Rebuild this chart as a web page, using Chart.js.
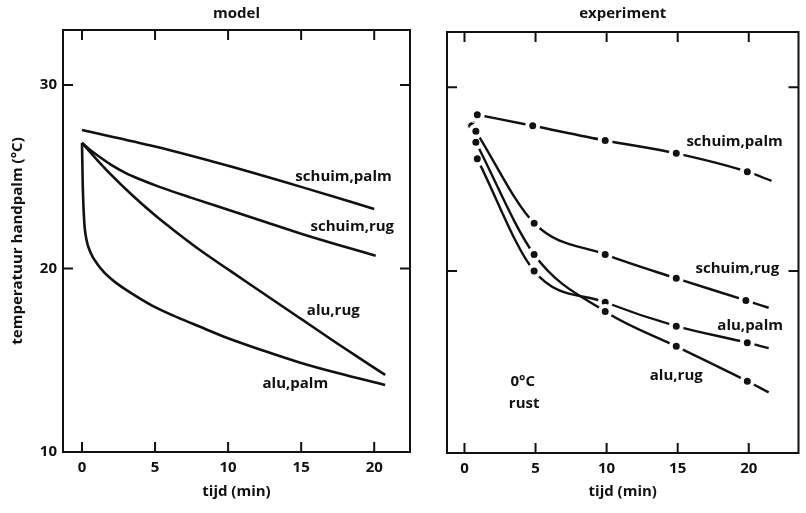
<!DOCTYPE html>
<html>
<head>
<meta charset="utf-8">
<script src="https://cdn.jsdelivr.net/npm/chart.js@4.4.1/dist/chart.umd.min.js"></script>
<style>
html, body { margin: 0; padding: 0; background: #fff; overflow: hidden; width: 806px; height: 513px; }
#chartModel { position: absolute; left: 0; top: 0; }
#chartExp   { position: absolute; left: 420px; top: 0; }
</style>
</head>
<body>
<canvas id="chartModel" width="420" height="513"></canvas>
<canvas id="chartExp" width="388" height="513"></canvas>
<script>
'use strict';

// ── data ────────────────────────────────────────────────────────────────────
const X_TICKS = [0, 5, 10, 15, 20];
const Y_TICKS = [10, 20, 30];

// model (left panel)
const MODEL_T_SCHUIM_PALM = [0, 5, 10, 15, 20];
const MODEL_SCHUIM_PALM   = [27.55, 26.65, 25.6, 24.45, 23.25];

const MODEL_T_SCHUIM_RUG  = [0, 0.5, 1, 2, 3, 4, 5.3, 7.5, 10, 12.5, 15, 17.5, 20.1];
const MODEL_SCHUIM_RUG    = [26.85, 26.5, 26.2, 25.65, 25.2, 24.85, 24.45, 23.85, 23.2, 22.55, 21.9, 21.3, 20.7];

const MODEL_T_ALU_RUG     = [0, 1, 2, 3.5, 5, 6.5, 8, 10, 12.5, 15, 17.5, 20.75];
const MODEL_ALU_RUG       = [26.85, 25.95, 25.1, 23.95, 22.9, 21.95, 21.05, 19.95, 18.6, 17.25, 15.9, 14.2];

const MODEL_T_ALU_PALM    = [0, 0.05, 0.15, 0.3, 0.6, 1, 1.5, 2.2, 3, 4, 5, 6.5, 8, 10, 12.5, 15, 17.5, 20.75];
const MODEL_ALU_PALM      = [26.85, 24.6, 22.6, 21.6, 20.85, 20.3, 19.8, 19.3, 18.85, 18.35, 17.9, 17.35, 16.85, 16.2, 15.5, 14.85, 14.3, 13.65];

// experiment (right panel) – last value of each series is the trailing dash, no dot
const EXP_T_SCHUIM_PALM = [0.9, 4.8, 9.9, 14.9, 19.9, 21.6];
const EXP_SCHUIM_PALM   = [28.5, 27.9, 27.1, 26.4, 25.4, 24.9];

const EXP_T_SCHUIM_RUG  = [0.8, 4.9, 9.9, 14.9, 19.8, 21.4];
const EXP_SCHUIM_RUG    = [27.6, 22.6, 20.9, 19.6, 18.4, 18.0];

const EXP_T_ALU_RUG     = [0.8, 4.9, 9.9, 14.9, 19.9, 21.4];
const EXP_ALU_RUG       = [27.0, 20.9, 17.8, 15.9, 14.0, 13.4];

const EXP_T_ALU_PALM    = [0.9, 4.9, 9.9, 14.9, 19.9, 21.4];
const EXP_ALU_PALM      = [26.1, 20.0, 18.3, 17.0, 16.1, 15.8];

const EXP_T_RUST        = [0.9, 0.5, 0.6];
const EXP_RUST          = [28.5, 27.9, 27.6];

// annotations (text in data units)
const MODEL_LABELS = [
    { text: 'schuim,palm', x: 17.9, y: 25.0 },
    { text: 'schuim,rug',  x: 18.5, y: 22.3 },
    { text: 'alu,rug',     x: 17.2, y: 17.7 },
    { text: 'alu,palm',    x: 14.6, y: 13.7 },
];
const EXP_LABELS = [
    { text: 'schuim,palm', x: 19.0, y: 27.05 },
    { text: 'schuim,rug',  x: 19.2, y: 20.1 },
    { text: 'alu,palm',    x: 20.1, y: 17.0 },
    { text: 'alu,rug',     x: 14.9, y: 14.3 },
    { text: '0°C',         x: 4.1,  y: 14.0 },
    { text: 'rust',        x: 4.2,  y: 12.8 },
];

// ── stijl ───────────────────────────────────────────────────────────────────
const INK  = '#111111';
const FONT = "'Open Sans', 'DejaVu Sans', sans-serif";

function pts(xs, ys) {
    return xs.map((x, i) => ({ x, y: ys[i] }));
}

// box + inward ticks + text labels
const boxTicks = {
    id: 'boxTicks',
    afterDatasetsDraw(chart, args, opts) {
        const { ctx, chartArea: a, scales } = chart;
        const sx = scales.x, sy = scales.y;
        const len = 9;
        ctx.save();
        ctx.strokeStyle = INK;
        ctx.lineWidth = 2;
        ctx.lineCap = 'square';
        ctx.beginPath();
        ctx.rect(a.left, a.top, a.right - a.left, a.bottom - a.top);
        X_TICKS.forEach(v => {
            const px = sx.getPixelForValue(v);
            ctx.moveTo(px, a.bottom); ctx.lineTo(px, a.bottom - len);
            ctx.moveTo(px, a.top);    ctx.lineTo(px, a.top + len);
        });
        Y_TICKS.forEach(v => {
            if (v <= sy.min || v >= sy.max) return;
            const py = sy.getPixelForValue(v);
            ctx.moveTo(a.left, py);  ctx.lineTo(a.left + len, py);
            ctx.moveTo(a.right, py); ctx.lineTo(a.right - len, py);
        });
        ctx.stroke();

        ctx.fillStyle = INK;
        ctx.font = `bold 15px ${FONT}`;
        ctx.textAlign = 'center';
        ctx.textBaseline = 'middle';
        (opts.labels || []).forEach(l => {
            ctx.fillText(l.text, sx.getPixelForValue(l.x), sy.getPixelForValue(l.y));
        });
        ctx.restore();
    },
};

Chart.defaults.font.family = FONT;
Chart.defaults.color = INK;
Chart.defaults.animation = false;

function axes(cfg) {
    const tickFont = { size: 15, weight: 'bold' };
    return {
        x: {
            type: 'linear', position: 'bottom', min: cfg.xmin, max: cfg.xmax,
            afterBuildTicks: s => { s.ticks = X_TICKS.map(v => ({ value: v })); },
            afterFit: s => { s.height = cfg.bottom; },
            ticks: { font: tickFont, color: INK, padding: 7 },
            grid: { display: false, drawTicks: false },
            border: { display: false },
            title: { display: true, text: 'tijd (min)', font: tickFont, color: INK, padding: { bottom: 12 } },
        },
        xTop: {
            type: 'linear', position: 'top', min: cfg.xmin, max: cfg.xmax,
            afterFit: s => { s.height = cfg.top; },
            ticks: { display: false },
            grid: { display: false, drawTicks: false },
            border: { display: false },
            title: { display: true, text: cfg.title, font: tickFont, color: INK, padding: { top: 5 } },
        },
        y: {
            type: 'linear', position: 'left', min: cfg.ymin, max: cfg.ymax,
            afterBuildTicks: s => { s.ticks = Y_TICKS.map(v => ({ value: v })); },
            afterFit: s => { s.width = cfg.left; },
            ticks: { display: cfg.yLabels, font: tickFont, color: INK, padding: 6 },
            grid: { display: false, drawTicks: false },
            border: { display: false },
            title: {
                display: cfg.yLabels, text: 'temperatuur handpalm (°C)',
                font: tickFont, color: INK, padding: { top: 9 },
            },
        },
    };
}

function modelLine(xs, ys) {
    return {
        data: pts(xs, ys),
        borderColor: INK,
        borderWidth: 2.6,
        pointRadius: 0,
        cubicInterpolationMode: 'monotone',
        fill: false,
    };
}

function expLine(xs, ys) {
    const last = xs.length - 1;
    return {
        data: pts(xs, ys),
        borderColor: INK,
        borderWidth: 2.4,
        cubicInterpolationMode: 'monotone',
        pointRadius: ctx => (ctx.dataIndex === last ? 0 : 5.5),
        pointBackgroundColor: INK,
        pointBorderColor: '#ffffff',
        pointBorderWidth: 4,
        fill: false,
    };
}

// ── model ───────────────────────────────────────────────────────────────────
new Chart(document.getElementById('chartModel'), {
    type: 'line',
    data: {
        datasets: [
            modelLine(MODEL_T_SCHUIM_PALM, MODEL_SCHUIM_PALM),
            modelLine(MODEL_T_SCHUIM_RUG,  MODEL_SCHUIM_RUG),
            modelLine(MODEL_T_ALU_RUG,     MODEL_ALU_RUG),
            modelLine(MODEL_T_ALU_PALM,    MODEL_ALU_PALM),
        ],
    },
    options: {
        responsive: false,
        layout: { padding: { left: 0, right: 10, top: 0, bottom: 0 } },
        plugins: { legend: { display: false }, tooltip: { enabled: false }, boxTicks: { labels: MODEL_LABELS } },
        scales: axes({ xmin: -1.3, xmax: 22.45, ymin: 10, ymax: 33, left: 63, top: 30, bottom: 61, title: 'model', yLabels: true }),
    },
    plugins: [boxTicks],
});

// ── experiment ──────────────────────────────────────────────────────────────
const rust = expLine(EXP_T_RUST, EXP_RUST);
rust.borderDash = [2, 4];
rust.borderWidth = 2;
rust.pointRadius = ctx => (ctx.dataIndex === 0 ? 0 : 4);
rust.pointBorderWidth = 1;

new Chart(document.getElementById('chartExp'), {
    type: 'line',
    data: {
        datasets: [
            expLine(EXP_T_SCHUIM_PALM, EXP_SCHUIM_PALM),
            expLine(EXP_T_SCHUIM_RUG,  EXP_SCHUIM_RUG),
            expLine(EXP_T_ALU_RUG,     EXP_ALU_RUG),
            expLine(EXP_T_ALU_PALM,    EXP_ALU_PALM),
            rust,
        ],
    },
    options: {
        responsive: false,
        layout: { padding: 0 },
        plugins: { legend: { display: false }, tooltip: { enabled: false }, boxTicks: { labels: EXP_LABELS } },
        scales: axes({ xmin: -1.23, xmax: 23.5, ymin: 10.1, ymax: 33, left: 27, top: 32, bottom: 60, title: 'experiment', yLabels: false }),
    },
    plugins: [boxTicks],
});
</script>
</body>
</html>
